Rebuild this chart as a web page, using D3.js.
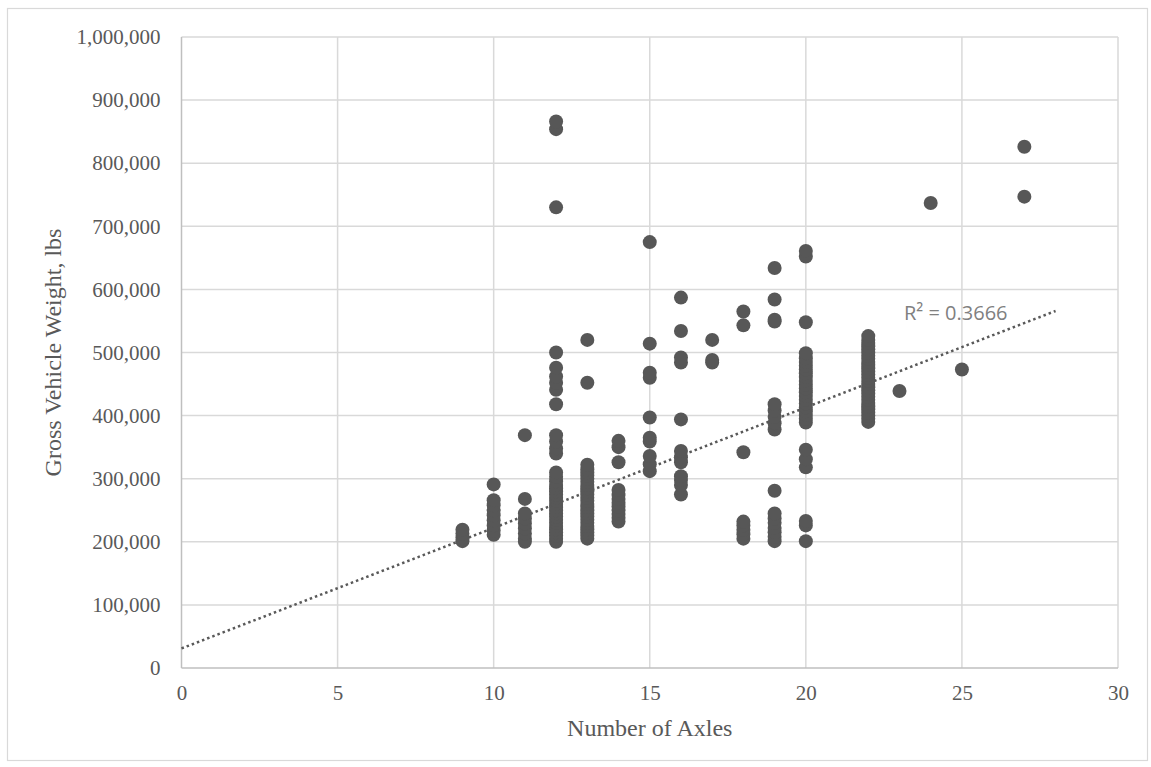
<!DOCTYPE html>
<html>
<head>
<meta charset="utf-8">
<script src="https://cdn.jsdelivr.net/npm/d3@7"></script>
<style>
  html, body { margin: 0; padding: 0; background: #ffffff; }
  svg { display: block; }
</style>
</head>
<body>
<svg id="chart" width="1151" height="767"></svg>
<script>
// ---------------- DATA ----------------
const axleCounts = [9, 10, 11, 12, 13, 14, 15, 16, 17, 18, 19, 20, 22, 23, 24, 25, 27];

const weights09 = [201000, 207000, 213000, 219000];
const weights10 = [211000, 218000, 226000, 234000, 242000, 250000, 258000, 266000, 291000];
const weights11 = [200000, 205000, 213000, 221000, 229000, 237000, 245000, 268000, 369000];
const weights12 = [200000, 205000, 210000, 215000, 220000, 225000, 230000, 235000, 240000, 245000,
                   250000, 255000, 260000, 265000, 270000, 275000, 280000, 285000, 290000, 296000,
                   303000, 310000, 340000, 348000, 359000, 369000, 418000, 441000, 452000, 462000,
                   476000, 500000, 730000, 854000, 866000];
const weights13 = [205000, 210000, 215000, 220000, 225000, 230000, 235000, 240000, 245000, 250000,
                   255000, 260000, 265000, 270000, 275000, 280000, 285000, 290000, 295000, 300000,
                   305000, 310000, 315000, 322000, 452000, 520000];
const weights14 = [232000, 238000, 244000, 250000, 256000, 262000, 268000, 274000, 282000, 326000, 350000, 360000];
const weights15 = [312000, 323000, 336000, 359000, 365000, 397000, 460000, 468000, 514000, 675000];
const weights16 = [275000, 290000, 298000, 304000, 326000, 334000, 344000, 394000, 484000, 492000, 534000, 587000];
const weights17 = [484000, 488000, 520000];
const weights18 = [205000, 212000, 219000, 226000, 232000, 342000, 543000, 565000];
const weights19 = [201000, 208000, 215000, 222000, 230000, 237000, 245000, 281000, 378000, 388000,
                   398000, 408000, 418000, 549000, 552000, 584000, 634000];
const weights20 = [201000, 226000, 233000, 318000, 331000, 346000, 389000, 395000, 401000, 407000,
                   413000, 419000, 425000, 431000, 437000, 443000, 449000, 455000, 461000, 467000,
                   473000, 479000, 485000, 491000, 499000, 548000, 652000, 661000];
const weights22 = [390000, 395000, 400000, 405000, 410000, 415000, 420000, 425000, 430000, 435000,
                   440000, 445000, 450000, 455000, 460000, 465000, 470000, 475000, 480000, 485000,
                   490000, 495000, 500000, 505000, 510000, 515000, 520000, 526000];
const weights23 = [439000];
const weights24 = [737000];
const weights25 = [473000];
const weights27 = [747000, 826000];

const weightsByAxle = [weights09, weights10, weights11, weights12, weights13, weights14, weights15,
                       weights16, weights17, weights18, weights19, weights20, weights22, weights23,
                       weights24, weights25, weights27];

// Linear trendline as shown in the picture (Excel linear fit)
const trendXRange = [0, 28];
const trendIntercept = 31000;
const trendSlope = 19100;
const trendLabel = "R\u00B2 = 0.3666";

const xTicks = [0, 5, 10, 15, 20, 25, 30];
const yTicks = [0, 100000, 200000, 300000, 400000, 500000, 600000, 700000, 800000, 900000, 1000000];
const xTitle = "Number of Axles";
const yTitle = "Gross Vehicle Weight, lbs";

// ---------------- DRAWING ----------------
const points = [];
axleCounts.forEach((a, i) => weightsByAxle[i].forEach(w => points.push({ x: a, y: w })));

const svg = d3.select("#chart");
const W = 1151, H = 767;
const plot = { left: 181.5, right: 1118, top: 37, bottom: 668 };

svg.append("rect").attr("width", W).attr("height", H).attr("fill", "#ffffff");
// outer chart border
svg.append("rect")
  .attr("x", 7.5).attr("y", 8.5).attr("width", 1140).attr("height", 752)
  .attr("fill", "none").attr("stroke", "#d9d9d9").attr("stroke-width", 1.2);

const x = d3.scaleLinear().domain([0, 30]).range([plot.left, plot.right]);
const y = d3.scaleLinear().domain([0, 1000000]).range([plot.bottom, plot.top]);

const textColor = "#595959";
const gridColor = "#d9d9d9";

// gridlines
svg.append("g").selectAll("line.h").data(yTicks.filter(d => d > 0)).join("line")
  .attr("x1", plot.left).attr("x2", plot.right)
  .attr("y1", d => y(d)).attr("y2", d => y(d))
  .attr("stroke", gridColor).attr("stroke-width", 1.5);
svg.append("g").selectAll("line.v").data(xTicks.filter(d => d > 0)).join("line")
  .attr("x1", d => x(d)).attr("x2", d => x(d))
  .attr("y1", plot.top).attr("y2", plot.bottom)
  .attr("stroke", gridColor).attr("stroke-width", 1.5);

// axis lines
svg.append("line").attr("x1", plot.left).attr("x2", plot.right)
  .attr("y1", plot.bottom).attr("y2", plot.bottom)
  .attr("stroke", "#bfbfbf").attr("stroke-width", 1.5);
svg.append("line").attr("x1", plot.left).attr("x2", plot.left)
  .attr("y1", plot.top).attr("y2", plot.bottom)
  .attr("stroke", "#bfbfbf").attr("stroke-width", 1.5);

// axes (labels only)
const fmt = d3.format(",");
const xAxis = svg.append("g").attr("transform", `translate(0,${plot.bottom})`)
  .call(d3.axisBottom(x).tickValues(xTicks).tickSize(0).tickPadding(17).tickFormat(d3.format("d")));
const yAxis = svg.append("g").attr("transform", `translate(${plot.left},0)`)
  .call(d3.axisLeft(y).tickValues(yTicks).tickSize(0).tickPadding(21).tickFormat(fmt));
[xAxis, yAxis].forEach(g => {
  g.select(".domain").remove();
  g.selectAll("text")
    .attr("fill", textColor)
    .style("font-family", "'Liberation Serif', 'Times New Roman', serif")
    .style("font-size", "21px");
});

// trendline (dotted)
const trendPts = trendXRange.map(v => ({ x: v, y: trendIntercept + trendSlope * v }));
svg.append("path")
  .datum(trendPts)
  .attr("d", d3.line().x(d => x(d.x)).y(d => y(d.y)))
  .attr("fill", "none")
  .attr("stroke", "#595959")
  .attr("stroke-width", 2.5)
  .attr("stroke-dasharray", "2.5,3");

// points
svg.append("g").selectAll("circle").data(points).join("circle")
  .attr("cx", d => x(d.x)).attr("cy", d => y(d.y)).attr("r", 7)
  .attr("fill", "#575757");

// R^2 label
svg.append("text")
  .attr("x", 904).attr("y", 320)
  .attr("fill", "#808080")
  .style("font-family", "'Open Sans', 'Liberation Sans', sans-serif")
  .style("font-size", "20px")
  .text(trendLabel);

// axis titles
svg.append("text")
  .attr("x", (plot.left + plot.right) / 2).attr("y", 736)
  .attr("text-anchor", "middle").attr("fill", textColor)
  .style("font-family", "'Liberation Serif', 'Times New Roman', serif")
  .style("font-size", "24px")
  .text(xTitle);
svg.append("text")
  .attr("transform", `translate(61,${(plot.top + plot.bottom) / 2}) rotate(-90)`)
  .attr("text-anchor", "middle").attr("fill", textColor)
  .style("font-family", "'Liberation Serif', 'Times New Roman', serif")
  .style("font-size", "24px")
  .text(yTitle);
</script>
</body>
</html>
